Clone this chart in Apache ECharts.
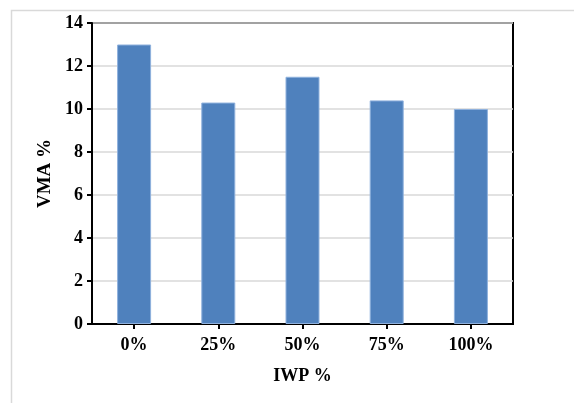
<!DOCTYPE html>
<html><head><meta charset="utf-8">
<script src="https://cdn.jsdelivr.net/npm/echarts@6/dist/echarts.min.js"></script>
<style>html,body{margin:0;padding:0;background:#fff}#c{width:574px;height:403px}</style>
</head><body><div id="c"></div>
<script>
var categories = ['0%', '25%', '50%', '75%', '100%'];
var vmaValues = [13.0, 10.3, 11.5, 10.4, 10.0];
var yTicks = [0, 2, 4, 6, 8, 10, 12, 14];

var chart = echarts.init(document.getElementById('c'));
var font = '"Liberation Serif", "Times New Roman", serif';
chart.setOption({
  animation: false,
  backgroundColor: '#fff',
  graphic: [{
    type: 'rect', left: 9, top: 8, shape: {width: 600, height: 420},
    style: {fill: 'none', stroke: '#d9d9d9', lineWidth: 1.5}, silent: true, z: -10
  }],
  grid: {left: 92, top: 23, right: 61, bottom: 79, show: true, borderColor: '#000', borderWidth: 2, backgroundColor: 'transparent'},
  xAxis: {
    type: 'category', data: categories,
    axisLine: {lineStyle: {color: '#000', width: 2}},
    axisTick: {show: true, alignWithLabel: true, length: 5, lineStyle: {color: '#000', width: 2}},
    axisLabel: {color: '#000', fontFamily: font, fontWeight: 'bold', fontSize: 18, margin: 12},
    name: 'IWP %', nameLocation: 'middle', nameGap: 43,
    nameTextStyle: {color: '#000', fontFamily: font, fontWeight: 'bold', fontSize: 18}
  },
  yAxis: {
    type: 'value', min: yTicks[0], max: yTicks[yTicks.length - 1], interval: 2,
    axisLine: {show: true, lineStyle: {color: '#000', width: 2}},
    axisTick: {show: true, length: 5, lineStyle: {color: '#000', width: 2}},
    axisLabel: {color: '#000', fontFamily: font, fontWeight: 'bold', fontSize: 18, margin: 9},
    splitLine: {lineStyle: {color: '#d9d9d9', width: 1.5}},
    name: 'VMA %', nameLocation: 'middle', nameGap: 32, nameRotate: 90,
    nameTextStyle: {color: '#000', fontFamily: font, fontWeight: 'bold', fontSize: 19}
  },
  series: [{
    type: 'bar', data: vmaValues, barWidth: 34,
    itemStyle: {color: '#4f81bd', borderColor: '#8fb1dd', borderWidth: 1}
  }]
});
</script></body></html>
